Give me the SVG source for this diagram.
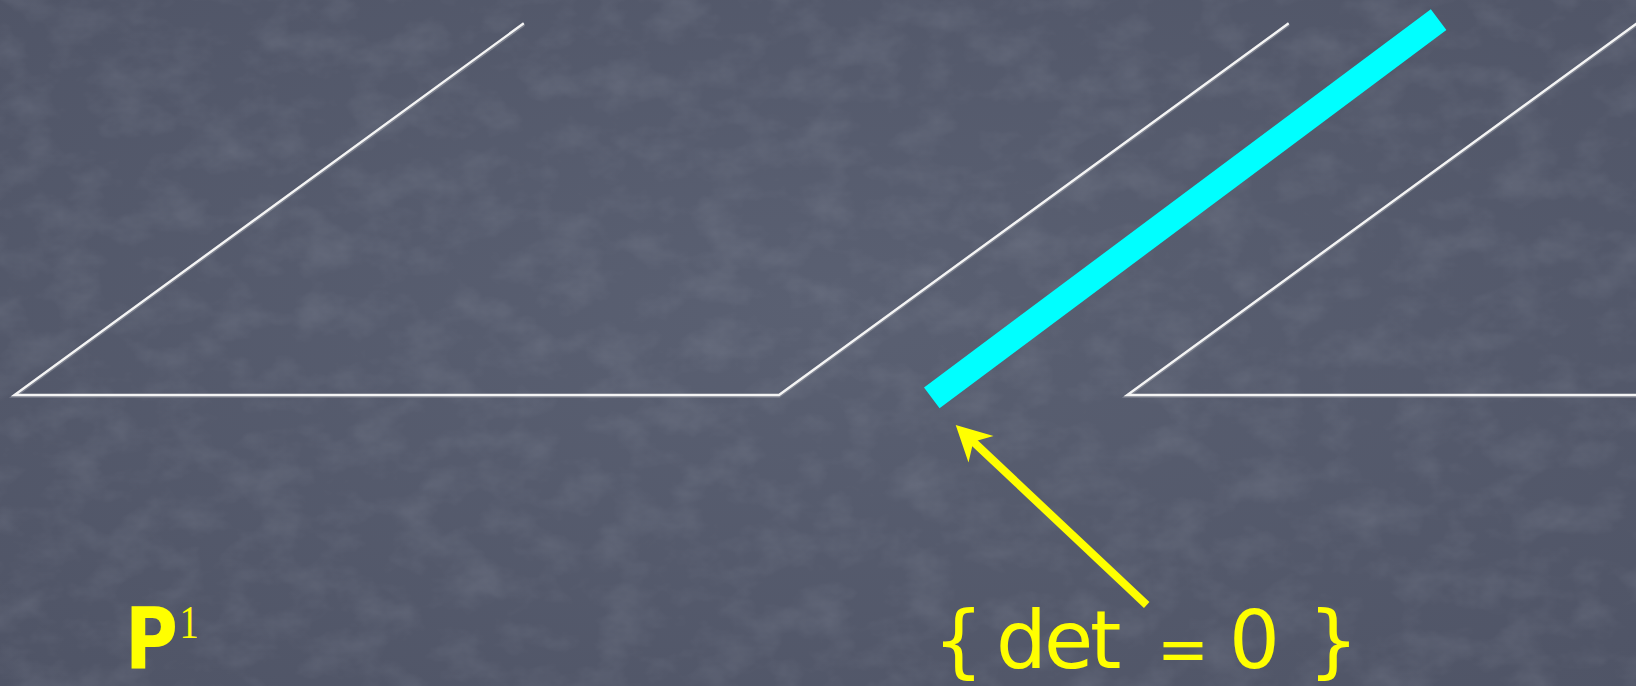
<svg xmlns="http://www.w3.org/2000/svg" width="1636" height="686" viewBox="0 0 1636 686">
  <defs>
    <style>
      .chalk { fill: none; stroke: #f4f4f4; stroke-width: 2.4; stroke-linejoin: miter; }
      .shadow { fill: none; stroke: #9a9ea8; stroke-width: 3.6; opacity: 0.55; }
      .yellow { fill: #ffff00; }
      .label { fill: #ffff00; font-family: "DejaVu Sans", "Noto Sans", sans-serif; }
    </style>
    <filter id="tex" x="0" y="0" width="100%" height="100%">
      <feTurbulence type="fractalNoise" baseFrequency="0.02 0.03" numOctaves="4" seed="7" result="n"/>
      <feColorMatrix in="n" type="matrix" values="0 0 0 0 0.5  0 0 0 0 0.53  0 0 0 0 0.6  0 0 0 1.2 -0.5" />
    </filter>
    <radialGradient id="bg" cx="50%" cy="45%" r="75%">
      <stop offset="0" stop-color="#5a6072"/>
      <stop offset="1" stop-color="#4f5466"/>
    </radialGradient>
  </defs>

  <rect id="background" x="0" y="0" width="1636" height="686" fill="url(#bg)"/>
  <rect x="0" y="0" width="1636" height="686" filter="url(#tex)" opacity="0.22"/>

  <g id="line-family-left">
    <path class="shadow" d="M524,24.3 L14.5,396 L779,396 L1288.7,24.3"/>
    <path class="chalk" d="M523.8,23.3 L14.5,395 L779,395 L1288.7,23.3"/>
  </g>

  <g id="line-family-right">
    <path class="shadow" d="M1637,24.3 L1127.3,396 L1640,396"/>
    <path class="chalk" d="M1637,23.3 L1127.3,395 L1640,395"/>
  </g>

  <g id="degenerate-line">
    <line x1="931.8" y1="397.8" x2="1438.6" y2="19.7" stroke="#00ffff" stroke-width="26" stroke-linecap="butt"/>
  </g>

  <g id="connectors">
    <line x1="1146.7" y1="605" x2="972" y2="440.5" stroke="#ffff00" stroke-width="8" stroke-linecap="butt"/>
    <polygon class="yellow" points="955.7,425 993.5,436 973.3,441.7 968.5,462.5"/>
  </g>

  <g id="label-P1">
    <text class="label" transform="translate(125,669) scale(0.84,1)" x="0" y="0"><tspan font-size="86" font-weight="bold">P</tspan><tspan dx="2" dy="-31" font-size="46" font-family="'Liberation Serif', 'DejaVu Serif', serif">1</tspan></text>
  </g>

  <g id="label-det">
    <text class="label" y="668" font-size="80"><tspan x="933 970 996 1044 1090 1125">{ det </tspan><tspan x="1157" dy="3" font-size="62">=</tspan><tspan x="1205 1229 1280 1308" dy="-3">&#160;0 }</tspan></text>
  </g>
</svg>
